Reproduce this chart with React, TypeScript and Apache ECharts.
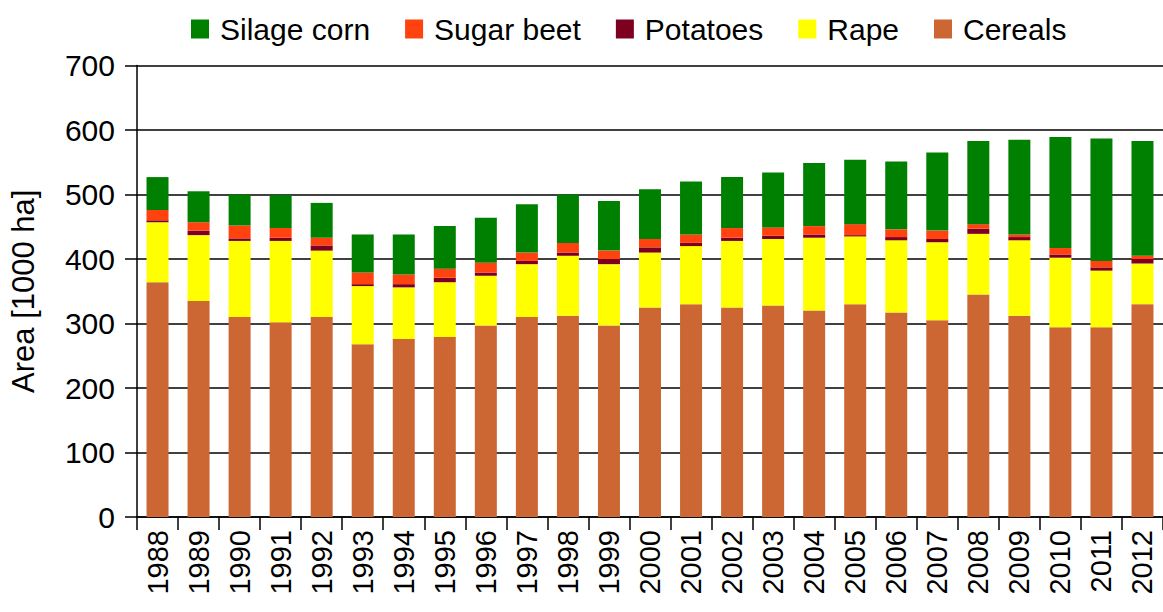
import React, { useEffect, useRef } from "react";
import * as echarts from "echarts";

const years = ["1988","1989","1990","1991","1992","1993","1994","1995","1996","1997","1998","1999","2000","2001","2002","2003","2004","2005","2006","2007","2008","2009","2010","2011","2012"];
const cereals = [364, 335, 310, 302, 310, 268, 276, 279, 297, 310, 312, 297, 325, 330, 325, 328, 320, 330, 317, 305, 345, 312, 294, 294, 330];
const rape = [93, 102, 118, 126, 103, 90, 80, 85, 77, 82, 93, 95, 85, 90, 103, 103, 113, 105, 112, 121, 94, 117, 108, 88, 63];
const potatoes = [3, 7, 4, 5, 8, 3, 5, 7, 5, 5, 5, 8, 8, 5, 5, 5, 5, 2, 5, 5, 8, 5, 5, 5, 7];
const sugarBeet = [16, 13, 20, 15, 12, 18, 15, 14, 15, 13, 15, 13, 13, 13, 15, 13, 13, 17, 12, 13, 7, 4, 10, 10, 5];
const silageCorn = [51, 48, 48, 51, 54, 59, 62, 66, 70, 75, 75, 77, 77, 82, 79, 85, 98, 100, 105, 121, 129, 147, 172, 190, 178];
const yTicks = { min: 0, max: 700, interval: 100 };

const FONT = "'Liberation Sans', Arial, sans-serif";

export default function App() {
  const ref = useRef<HTMLDivElement>(null);
  useEffect(() => {
    if (!ref.current) return;
    const chart = echarts.init(ref.current, null, { renderer: "svg" });
    const mk = (name: string, data: number[], color: string) => ({
      name,
      type: "bar",
      stack: "total",
      data,
      barWidth: 22,
      itemStyle: { color },
      emphasis: { disabled: true },
    });
    chart.setOption({
      animation: false,
      textStyle: { fontFamily: FONT },
      legend: {
        data: ["Silage corn", "Sugar beet", "Potatoes", "Rape", "Cereals"],
        left: 186,
        top: 9,
        icon: "rect",
        itemWidth: 18,
        itemHeight: 19,
        itemGap: 35,
        textStyle: { fontSize: 30, color: "#000", fontFamily: FONT, padding: [0, 0, 0, 6] },
      },
      grid: { left: 133, top: 65.5, width: 1041, height: 451.5 },
      xAxis: {
        type: "category",
        data: years,
        axisLine: { lineStyle: { color: "#000", width: 1.5 } },
        axisTick: { show: true, alignWithLabel: false, length: 13, lineStyle: { color: "#000", width: 1.5 } },
        axisLabel: { rotate: 90, fontSize: 29, color: "#000", margin: 13, interval: 0, fontFamily: FONT },
      },
      yAxis: {
        type: "value",
        min: yTicks.min,
        max: yTicks.max,
        interval: yTicks.interval,
        name: "Area [1000 ha]",
        nameLocation: "middle",
        nameGap: 98,
        nameTextStyle: { fontSize: 31, color: "#000", fontFamily: FONT },
        axisLine: { show: true, lineStyle: { color: "#000", width: 1.5 } },
        axisTick: { show: true, length: 12, lineStyle: { color: "#000", width: 1.5 } },
        axisLabel: { fontSize: 30, color: "#000", margin: 22, fontFamily: FONT },
        splitLine: { show: true, lineStyle: { color: "#000", width: 1.5 } },
      },
      series: [
        mk("Cereals", cereals, "#cc6633"),
        mk("Rape", rape, "#ffff00"),
        mk("Potatoes", potatoes, "#7e0021"),
        mk("Sugar beet", sugarBeet, "#ff420e"),
        mk("Silage corn", silageCorn, "#008000"),
      ],
    });
    return () => chart.dispose();
  }, []);
  return (
    <div style={{ position: "fixed", left: 0, top: 0, width: 1163, height: 612, overflow: "hidden", background: "#fff" }}>
      <div ref={ref} style={{ width: 1163, height: 612 }} />
    </div>
  );
}
